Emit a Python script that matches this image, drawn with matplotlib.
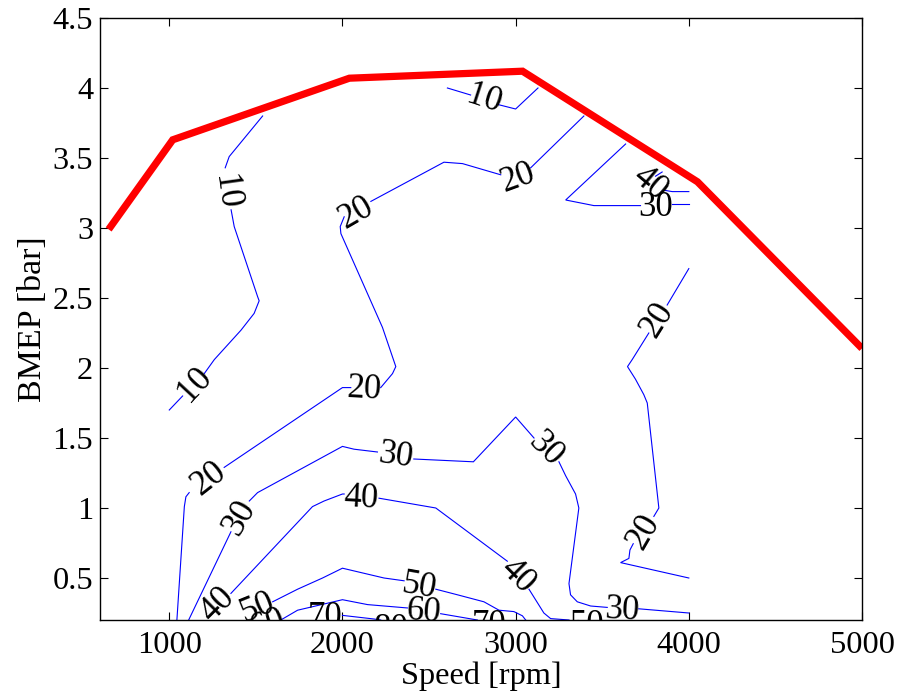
import matplotlib
matplotlib.use("Agg")
import matplotlib.pyplot as plt

plt.rcParams['font.family'] = ['Liberation Serif', 'DejaVu Serif']
plt.rcParams['mathtext.fontset'] = 'stix'

# ---------------- data ----------------
# full-load (max BMEP) curve
wot_rpm = [650, 1020, 2040, 3040, 4050, 5000]
wot_bmep = [2.99, 3.63, 4.07, 4.12, 3.33, 2.14]

# contour line pieces (rpm, bar) – gaps are where labels sit
c10_a_rpm = [1539, 1346, 1323]
c10_a_bar = [3.80, 3.51, 3.43]
c10_b_rpm = [1357, 1375, 1510, 1519, 1490, 1414, 1260, 1202]
c10_b_bar = [3.13, 3.01, 2.51, 2.48, 2.39, 2.27, 2.06, 1.96]
c10_c_rpm = [1077, 1000]
c10_c_bar = [1.80, 1.70]
c10_d_rpm = [2606, 2740]
c10_d_bar = [4.00, 3.95]
c10_e_rpm = [2904, 3000, 3129]
c10_e_bar = [3.88, 3.85, 4.00]

c20_a_rpm = [1044, 1087, 1096, 1115]
c20_a_bar = [0.20, 1.01, 1.08, 1.11]
c20_b_rpm = [1317, 2000, 2048]
c20_b_bar = [1.29, 1.86, 1.86]
c20_c_rpm = [2221, 2289, 2308, 2231, 1991, 1987, 2010]
c20_c_bar = [1.86, 1.96, 2.01, 2.29, 2.96, 3.01, 3.08]
c20_d_rpm = [2164, 2586, 2693, 2914]
c20_d_bar = [3.19, 3.47, 3.46, 3.38]
c20_e_rpm = [3087, 3394]
c20_e_bar = [3.43, 3.80]
c20_f_rpm = [4000, 3875]
c20_f_bar = [2.71, 2.45]
c20_g_rpm = [3769, 3673, 3646, 3692, 3740, 3760, 3827, 3798]
c20_g_bar = [2.25, 2.06, 2.01, 1.92, 1.81, 1.75, 1.00, 0.94]
c20_h_rpm = [3679, 3660, 3654, 3606, 4000]
c20_h_bar = [0.745, 0.70, 0.64, 0.61, 0.50]

c30_a_rpm = [3635, 3289, 3452, 3721]
c30_a_bar = [3.60, 3.20, 3.16, 3.16]
c30_b_rpm = [3904, 4000]
c30_b_bar = [3.17, 3.17]
c30_c_rpm = [1112, 1356]
c30_c_bar = [0.20, 0.83]
c30_d_rpm = [1462, 1510, 2000, 2067, 2202]
c30_d_bar = [1.05, 1.11, 1.44, 1.42, 1.40]
c30_e_rpm = [2412, 2756, 3000, 3106]
c30_e_bar = [1.35, 1.33, 1.65, 1.50]
c30_f_rpm = [3250, 3289, 3346, 3365, 3308, 3317, 3356, 3433, 3529]
c30_f_bar = [1.33, 1.23, 1.10, 1.00, 0.46, 0.38, 0.33, 0.30, 0.29]
c30_g_rpm = [3711, 4000]
c30_g_bar = [0.28, 0.25]

c40_a_rpm = [3846, 3808]
c40_a_bar = [3.40, 3.37]
c40_b_rpm = [3856, 3904, 4000]
c40_b_bar = [3.27, 3.26, 3.26]
c40_c_rpm = [1356, 1827, 1894, 2000, 2010]
c40_c_bar = [0.39, 1.01, 1.05, 1.10, 1.10]
c40_d_rpm = [2211, 2539, 2952]
c40_d_bar = [1.07, 1.00, 0.62]
c40_e_rpm = [3077, 3163, 3202, 3308]
c40_e_bar = [0.42, 0.25, 0.21, 0.20]

c50_a_rpm = [1597, 1741, 1885, 2000, 2240, 2356]
c50_a_bar = [0.33, 0.42, 0.50, 0.57, 0.50, 0.48]
c50_b_rpm = [2539, 2664, 2817, 2904, 2990, 3039, 3058]
c50_b_bar = [0.42, 0.38, 0.33, 0.27, 0.26, 0.23, 0.20]

c60_a_rpm = [1644, 1741, 2000, 2145, 2375]
c60_a_bar = [0.20, 0.27, 0.345, 0.31, 0.286]
c60_b_rpm = [2567, 2779]
c60_b_bar = [0.245, 0.20]

c70_a_rpm = [2000, 2183, 2221]
c70_a_bar = [0.233, 0.207, 0.20]

# contour labels
lab_text = ["10", "10", "10",
            "20", "20", "20", "20", "20", "20",
            "30", "40",
            "30", "30", "30", "30",
            "40", "40", "40",
            "50", "50", "50",
            "60", "60",
            "70", "70", "80"]
lab_rpm = [1327, 1144, 2817,
           1231, 2125, 2077, 3010, 3818, 3740,
           3808, 3779,
           1404, 2308, 3173, 3616,
           1279, 2110, 3010,
           1510, 2442, 3415,
           1570, 2471,
           1898, 2846, 2280]
lab_bar = [3.26, 1.88, 3.92,
           1.21, 1.845, 3.11, 3.36, 2.345, 0.83,
           3.15, 3.32,
           0.93, 1.37, 1.42, 0.27,
           0.31, 1.07, 0.51,
           0.29, 0.44, 0.16,
           0.17, 0.26,
           0.215, 0.16, 0.13]
lab_rot = [-82, 47, -18,
           38, -3, 30, 20, 58, 60,
           0, -40,
           60, -8, -45, -3,
           45, -3, -45,
           22, -10, 0,
           20, -5,
           0, 0, 0]

x_ticks = [1000, 2000, 3000, 4000, 5000]
y_ticks = [0.5, 1, 1.5, 2, 2.5, 3, 3.5, 4, 4.5]
y_tick_labels = ["0.5", "1", "1.5", "2", "2.5", "3", "3.5", "4", "4.5"]

# ---------------- drawing ----------------
fig = plt.figure(figsize=(8.98, 6.97), dpi=100)
ax = fig.add_axes([100 / 898, 77 / 697, 762 / 898, 602 / 697])

pieces = [
    (c10_a_rpm, c10_a_bar), (c10_b_rpm, c10_b_bar), (c10_c_rpm, c10_c_bar),
    (c10_d_rpm, c10_d_bar), (c10_e_rpm, c10_e_bar),
    (c20_a_rpm, c20_a_bar), (c20_b_rpm, c20_b_bar), (c20_c_rpm, c20_c_bar),
    (c20_d_rpm, c20_d_bar), (c20_e_rpm, c20_e_bar), (c20_f_rpm, c20_f_bar),
    (c20_g_rpm, c20_g_bar), (c20_h_rpm, c20_h_bar),
    (c30_a_rpm, c30_a_bar), (c30_b_rpm, c30_b_bar), (c30_c_rpm, c30_c_bar),
    (c30_d_rpm, c30_d_bar), (c30_e_rpm, c30_e_bar), (c30_f_rpm, c30_f_bar),
    (c30_g_rpm, c30_g_bar),
    (c40_a_rpm, c40_a_bar), (c40_b_rpm, c40_b_bar), (c40_c_rpm, c40_c_bar),
    (c40_d_rpm, c40_d_bar), (c40_e_rpm, c40_e_bar),
    (c50_a_rpm, c50_a_bar), (c50_b_rpm, c50_b_bar),
    (c60_a_rpm, c60_a_bar), (c60_b_rpm, c60_b_bar),
    (c70_a_rpm, c70_a_bar),
]
for xs, ys in pieces:
    ax.plot(xs, ys, color=(0, 0, 1), lw=0.8, solid_joinstyle='miter')

for t, x, y, r in zip(lab_text, lab_rpm, lab_bar, lab_rot):
    ax.text(x, y, t, rotation=r, rotation_mode='anchor', ha='center',
            va='center', fontsize=25, color='black', clip_on=True)

ax.plot(wot_rpm, wot_bmep, color=(1, 0, 0), lw=5.2, solid_joinstyle='miter',
        solid_capstyle='butt', clip_on=True)

ax.set_xlim(600, 5000)
ax.set_ylim(0.2, 4.5)
ax.set_xticks(x_ticks)
ax.set_xticklabels([str(v) for v in x_ticks])
ax.set_yticks(y_ticks)
ax.set_yticklabels(y_tick_labels)
ax.tick_params(direction='in', length=5.5, width=0.8, top=True, right=True,
               labelsize=23.3, colors='black')
ax.tick_params(axis='x', pad=8)
ax.tick_params(axis='y', pad=5)
for s in ax.spines.values():
    s.set_linewidth(1.0)
    s.set_color('black')

ax.set_xlabel("Speed [rpm]", fontsize=23.3, labelpad=1)
ax.set_ylabel("BMEP [bar]", fontsize=24.5, labelpad=3)

fig.savefig("out.png", dpi=100, facecolor='white')
